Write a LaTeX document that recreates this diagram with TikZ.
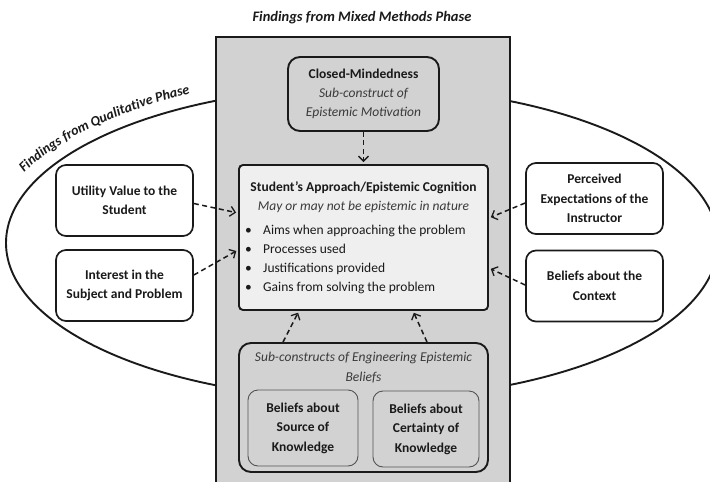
\documentclass[tikz,border=0pt]{standalone}
\usepackage{fontspec}
\setmainfont{Carlito}
\usetikzlibrary{arrows.meta,decorations.text,calc}
\definecolor{panelgray}{HTML}{D2D2D2}
\definecolor{cogfill}{HTML}{EFEFEF}
\definecolor{ink}{HTML}{1A1A1A}
\definecolor{itink}{HTML}{3A3A3A}
\newcommand\fs{\fontsize{13.5}{19.5}\selectfont}
\begin{document}
\begin{tikzpicture}[x=1pt,y=-1pt,
  every node/.style={font=\fs, text=ink, inner sep=0pt},
  sidebox/.style={draw=ink, line width=1.7pt, rounded corners=10pt, fill=white, align=center,
    minimum width=137pt, minimum height=71pt, font=\fs\bfseries},
  graybox/.style={draw=ink, line width=1.9pt, rounded corners=12pt, fill=panelgray},
  innerbox/.style={draw=ink!75, line width=0.9pt, rounded corners=10pt, fill=panelgray, align=center,
    minimum height=76pt, font=\fs\bfseries},
  itxt/.style={font=\fs\itshape, text=itink, align=center},
  arr/.style={draw=ink, line width=1.5pt, dash pattern=on 5pt off 3.5pt, shorten >=2pt,
    -{Straight Barb[length=5pt,width=10pt,line width=1.3pt]}}
]
\useasboundingbox (0,0) rectangle (710,482);
% ellipse
\draw[ink, line width=1.9pt] (362,243) ellipse [x radius=356pt, y radius=156pt];
\coordinate (ts) at ($(362,243)+(158.5:372pt and 168pt)$);
\path[decorate, decoration={text along path, text align=center,
   text={|\fontsize{14}{19}\selectfont\bfseries\itshape\color{ink}|Findings from Qualitative Phase}}]
   (ts) arc[start angle=158.5, end angle=115.5, x radius=372pt, y radius=168pt];
% panel
\node[draw=ink, line width=1.9pt, fill=panelgray, minimum width=294pt, minimum height=460pt] (panel) at (363,267) {};
\node[font=\fontsize{14.5}{19}\selectfont\bfseries\itshape] (title) at (362,18) {Findings from Mixed Methods Phase};
% closed-mindedness
\node[graybox, minimum width=151pt, minimum height=74pt, align=center] (closed) at (363.5,94)
  {\textbf{Closed-Mindedness}\\[-0.5pt]{\itshape\color{itink}Sub-construct of}\\[-0.5pt]{\itshape\color{itink}Epistemic Motivation}};
% central box
\node[draw=ink, line width=1.9pt, rounded corners=4pt, fill=cogfill, minimum width=249pt, minimum height=145pt] (cog) at (363.5,237.5) {};
\node[font=\fs\bfseries, anchor=base] (cogt) at (363.5,191.5) {Student’s Approach/Epistemic Cognition};
\node[itxt, anchor=base] (cogi) at (363.5,210.5) {May or may not be epistemic in nature};
\node[anchor=base west] (b1) at (245,234.5) {\makebox[18pt][l]{•}Aims when approaching the problem};
\node[anchor=base west] (b2) at (245,253.5) {\makebox[18pt][l]{•}Processes used};
\node[anchor=base west] (b3) at (245,272.5) {\makebox[18pt][l]{•}Justifications provided};
\node[anchor=base west] (b4) at (245,291.5) {\makebox[18pt][l]{•}Gains from solving the problem};
% side boxes
\node[sidebox] (util) at (124.5,200.5) {Utility Value to the\\Student};
\node[sidebox] (inter) at (124.5,285.5) {Interest in the\\Subject and Problem};
\node[sidebox] (perc) at (594.5,198.5) {Perceived\\Expectations of the\\Instructor};
\node[sidebox] (ctx) at (594.5,286) {Beliefs about the\\Context};
% sub-constructs
\node[graybox, minimum width=249pt, minimum height=129pt] (sub) at (363.5,407.5) {};
\node[itxt] (subt) at (363.5,367.5) {Sub-constructs of Engineering Epistemic\\Beliefs};
\node[innerbox, minimum width=110pt] (src) at (303,428) {Beliefs about\\Source of\\Knowledge};
\node[innerbox, minimum width=106pt] (cert) at (426,429) {Beliefs about\\Certainty of\\Knowledge};
% arrows
\draw[arr] (closed.south) -- (cog.north);
\draw[arr] ([yshift=-3pt]util.east) -- ([yshift=24.5pt]cog.west);
\draw[arr] ([yshift=10.5pt]inter.east) -- ([yshift=-12.5pt]cog.west);
\draw[arr] ([yshift=-4.5pt]perc.west) -- ([yshift=19.5pt]cog.east);
\draw[arr] ([yshift=1pt]ctx.west) -- ([yshift=-30.5pt]cog.east);
\draw[arr] ([xshift=-80.5pt]sub.north) -- ([xshift=-64.5pt]cog.south);
\draw[arr] ([xshift=63.5pt]sub.north) -- ([xshift=49.5pt]cog.south);
\end{tikzpicture}
\end{document}
